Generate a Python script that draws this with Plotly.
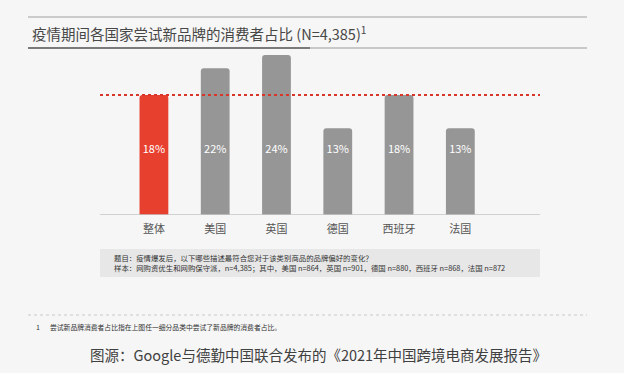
import plotly.graph_objects as go

categories = ["整体", "美国", "英国", "德国", "西班牙", "法国"]
values = [18, 22, 24, 13, 18, 13]
value_labels = ["18%", "22%", "24%", "13%", "18%", "13%"]
bar_colors = ["#e8402f", "#969696", "#969696", "#969696", "#969696", "#969696"]
reference_value = 18
label_y = 9.75

title_text = "疫情期间各国家尝试新品牌的消费者占比 (N=4,385)<sup>1</sup>"
question_text = "题目：疫情爆发后，以下哪些描述最符合您对于该类别商品的品牌偏好的变化？"
sample_text = "样本：网购资优生和网购保守派，n=4,385；其中，美国 n=864，英国 n=901，德国 n=880，西班牙 n=868，法国 n=872"
footnote_text = "尝试新品牌消费者占比指在上图任一细分品类中尝试了新品牌的消费者占比。"
source_text = "图源：Google与德勤中国联合发布的《2021年中国跨境电商发展报告》"

W, H = 624, 373
ML, MR, MT, MB = 100, 84, 40, 158
PW, PH = W - ML - MR, H - MT - MB
FONT = "Noto Sans CJK SC"

x_idx = list(range(len(categories)))

fig = go.Figure()
fig.add_trace(go.Bar(
    x=x_idx, y=values, marker_color=bar_colors, width=0.47,
    marker_line_width=0, hoverinfo="skip", showlegend=False,
))
fig.add_trace(go.Scatter(
    x=x_idx, y=[label_y] * len(values), mode="text", text=value_labels,
    textfont=dict(family=FONT, size=11, color="white"),
    showlegend=False, hoverinfo="skip", cliponaxis=False,
))


def px(x):
    return (x - ML) / PW


def py(y):
    return (H - MB - y) / PH


shapes = []
shapes.append(dict(type="line", xref="paper", yref="paper", x0=px(28), x1=px(587),
                   y0=py(17), y1=py(17), line=dict(color="#bdbdbd", width=1.5)))
shapes.append(dict(type="line", xref="paper", yref="paper", x0=px(28), x1=px(587),
                   y0=py(48), y1=py(48), line=dict(color="#c8c8c8", width=2)))
shapes.append(dict(type="line", xref="paper", yref="paper", x0=px(28), x1=px(310),
                   y0=py(48), y1=py(48), line=dict(color="#7a7a7a", width=2)))
shapes.append(dict(type="line", xref="paper", yref="y", x0=px(100), x1=px(540),
                   y0=0, y1=0, line=dict(color="#c4c4c4", width=1.5)))
shapes.append(dict(type="line", xref="paper", yref="y", x0=px(100), x1=px(540),
                   y0=reference_value, y1=reference_value,
                   line=dict(color="#d9362a", width=2, dash="dot")))
shapes.append(dict(type="rect", xref="paper", yref="paper", x0=px(100), x1=px(540),
                   y0=py(277), y1=py(249), fillcolor="#e7e7e7", line=dict(width=0), layer="below"))
shapes.append(dict(type="line", xref="paper", yref="paper", x0=px(28), x1=px(587),
                   y0=py(315), y1=py(315), line=dict(color="#c8c8c8", width=1, dash="dot")))


def note(text, x, y, size, color="#333333", anchor="left"):
    return dict(text=text, x=px(x), y=py(y), xref="paper", yref="paper",
                xanchor=anchor, yanchor="middle", showarrow=False,
                font=dict(family=FONT, size=size, color=color))


annotations = [
    note(title_text, 30, 33, 14.5, "#474747"),
    note(question_text, 112, 257, 7.4),
    note(sample_text, 112, 267, 7.4),
    note("1", 34, 327, 7),
    note(footnote_text, 48, 327, 6.8),
    note(source_text, 88, 354, 14.5, "#404040"),
]

fig.update_layout(
    width=W, height=H,
    margin=dict(l=ML, r=MR, t=MT, b=MB, pad=0),
    paper_bgcolor="#f6f6f6", plot_bgcolor="rgba(0,0,0,0)",
    barcornerradius=3,
    shapes=shapes, annotations=annotations,
    xaxis=dict(range=[-0.88, 6.3], tickvals=x_idx, ticktext=categories,
               showgrid=False, zeroline=False, showline=False, ticks="",
               ticklabelstandoff=6,
               tickfont=dict(family=FONT, size=11, color="#555555"), fixedrange=True),
    yaxis=dict(range=[0, 26.25], showgrid=False, zeroline=False, showline=False,
               showticklabels=False, fixedrange=True),
)

fig.write_html("out.html", config={"displayModeBar": False},
               post_script="document.body.style.margin='0';document.body.style.overflow='hidden';")
